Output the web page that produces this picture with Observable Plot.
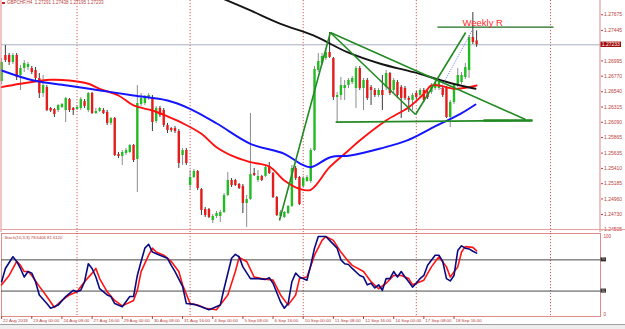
<!DOCTYPE html>
<html><head><meta charset="utf-8">
<script src="https://cdn.jsdelivr.net/npm/d3@7"></script>
<script src="https://cdn.jsdelivr.net/npm/@observablehq/plot@0.6"></script>
<style>
html,body{margin:0;padding:0;background:#fff;}
#wrap{position:relative;width:625px;height:329px;overflow:hidden;font-family:"Liberation Sans",Arial,sans-serif;background:#fff;}
#main{position:absolute;left:0;top:0;}
#stoch{position:absolute;left:0;top:232px;}
#title{position:absolute;left:7px;top:0px;font-size:4.5px;line-height:6px;color:#b8403c;white-space:nowrap;}
#icon{position:absolute;left:2px;top:2px;width:3px;height:2px;background:#d02020;}
#tabs{position:absolute;left:0;top:324px;width:625px;height:5px;background:#eeeeee;border-top:1px solid #a0a0a0;}
</style></head><body>
<div id="wrap">
  <div id="main"></div>
  <div id="stoch"></div>
  <div id="icon"></div>
  <div id="title">GBPCHF,H4&nbsp; 1.27291 1.27438 1.27195 1.27233</div>
  <div id="tabs"></div>
</div>
<script>
// ---------- DATA ----------
const symbolTitle = "GBPCHF,H4";
const opens = [1.26692,1.27075,1.27075,1.26972,1.27075,1.26780,1.26883,1.26898,1.26883,1.26854,
1.26736,1.26515,1.26603,1.26294,1.26279,1.26264,1.26308,1.26264,1.26426,1.26294,
1.26279,1.26294,1.26397,1.26264,1.26515,1.26220,1.26249,1.26264,1.26235,1.26073,
1.26146,1.25615,1.25586,1.25630,1.25645,1.25748,1.25542,1.26353,1.26367,1.26441,
1.26456,1.26102,1.26294,1.26264,1.26043,1.25999,1.25999,1.25954,1.25601,1.25674,
1.25158,1.25276,1.25365,1.25099,1.24804,1.24804,1.24642,1.24701,1.24701,1.24760,
1.25011,1.25232,1.25232,1.25173,1.25144,1.24893,1.24952,1.25335,1.25232,1.25291,
1.25291,1.25438,1.25335,1.24981,1.24701,1.24686,1.24745,1.24849,1.25409,1.25276,
1.25144,1.25217,1.25217,1.25674,1.26854,1.26957,1.27031,1.27119,1.27031,1.26456,
1.26485,1.26588,1.26633,1.26677,1.26588,1.26883,1.26588,1.26706,1.26603,1.26559,
1.26485,1.26559,1.26603,1.26810,1.26559,1.26677,1.26603,1.26588,1.26441,1.26412,
1.26515,1.26485,1.26559,1.26530,1.26530,1.26588,1.26588,1.26588,1.26588,1.26161,
1.26382,1.26633,1.26677,1.26751,1.26854,1.27340,1.27291];
const highs = [1.27031,1.27222,1.27105,1.27105,1.27105,1.26928,1.27001,1.26972,1.26913,1.26898,
1.26810,1.26780,1.26633,1.26308,1.26294,1.26353,1.26367,1.26456,1.26441,1.26308,
1.26338,1.26456,1.26426,1.26530,1.26530,1.26294,1.26308,1.26294,1.26264,1.26161,
1.26161,1.25645,1.25674,1.25704,1.25763,1.25763,1.26633,1.26515,1.26485,1.26515,
1.26485,1.26323,1.26323,1.26294,1.26073,1.26013,1.26028,1.25984,1.25704,1.25704,
1.25379,1.25394,1.25379,1.25114,1.24834,1.24819,1.24731,1.24775,1.24790,1.25040,
1.25350,1.25261,1.25247,1.25188,1.25173,1.25011,1.26220,1.25409,1.25379,1.25306,
1.25438,1.25497,1.25350,1.24996,1.24790,1.24775,1.24863,1.25453,1.25438,1.25291,
1.25291,1.25306,1.25704,1.26913,1.27105,1.27105,1.27178,1.27414,1.27046,1.26530,
1.26751,1.26706,1.26736,1.26765,1.26913,1.26913,1.26736,1.26736,1.26633,1.26588,
1.26588,1.26780,1.26854,1.26824,1.26736,1.26706,1.26633,1.26618,1.26471,1.26515,
1.26544,1.26588,1.26588,1.26559,1.26662,1.26706,1.26736,1.26618,1.26618,1.26412,
1.26662,1.26883,1.26824,1.26957,1.27370,1.27709,1.27438];
const lows = [1.26647,1.26972,1.26928,1.26942,1.26706,1.26559,1.26824,1.26854,1.26795,1.26706,
1.26441,1.26456,1.26249,1.26235,1.26161,1.26235,1.26294,1.26087,1.26235,1.26191,
1.26264,1.26264,1.26294,1.26235,1.26205,1.26205,1.26235,1.26205,1.26043,1.26043,
1.25586,1.25556,1.25453,1.25601,1.25630,1.25497,1.25055,1.26323,1.26338,1.26412,
1.25954,1.26073,1.26161,1.26013,1.25925,1.25940,1.25925,1.25409,1.25453,1.25453,
1.25085,1.25261,1.25085,1.24716,1.24686,1.24672,1.24598,1.24672,1.24613,1.24745,
1.24996,1.25129,1.25144,1.25099,1.24745,1.24539,1.24937,1.25291,1.25203,1.25217,
1.25276,1.25320,1.24966,1.24701,1.24672,1.24672,1.24731,1.24834,1.25232,1.24863,
1.25114,1.25203,1.25188,1.25660,1.26824,1.26928,1.27001,1.27031,1.26412,1.26087,
1.26412,1.26412,1.26588,1.26647,1.26294,1.26559,1.26264,1.26412,1.26338,1.26456,
1.26456,1.26264,1.26559,1.26485,1.26515,1.26441,1.26146,1.26412,1.26235,1.26264,
1.26426,1.26441,1.26382,1.26426,1.26500,1.26559,1.26559,1.26456,1.26146,1.26013,
1.26353,1.26603,1.26647,1.26721,1.26736,1.27237,1.27195];
const closes = [1.26972,1.27001,1.26972,1.27075,1.26751,1.26883,1.26957,1.26942,1.26824,1.26736,
1.26515,1.26633,1.26264,1.26257,1.26205,1.26338,1.26353,1.26441,1.26264,1.26264,
1.26308,1.26426,1.26323,1.26515,1.26220,1.26249,1.26294,1.26220,1.26073,1.26146,
1.25601,1.25586,1.25645,1.25674,1.25748,1.25527,1.26367,1.26441,1.26456,1.26485,
1.26087,1.26294,1.26191,1.26043,1.25969,1.25969,1.25954,1.25483,1.25674,1.25483,
1.25276,1.25365,1.25114,1.24790,1.24716,1.24686,1.24701,1.24745,1.24760,1.25011,
1.25232,1.25158,1.25158,1.25114,1.24893,1.24952,1.25320,1.25306,1.25291,1.25232,
1.25424,1.25335,1.24981,1.24716,1.24760,1.24760,1.24849,1.25409,1.25261,1.24878,
1.25261,1.25276,1.25674,1.26869,1.26987,1.27060,1.27119,1.27046,1.26456,1.26485,
1.26633,1.26633,1.26706,1.26736,1.26883,1.26588,1.26706,1.26441,1.26559,1.26485,
1.26559,1.26485,1.26810,1.26515,1.26706,1.26485,1.26441,1.26441,1.26412,1.26485,
1.26456,1.26559,1.26412,1.26456,1.26633,1.26662,1.26706,1.26485,1.26161,1.26382,
1.26633,1.26780,1.26780,1.26898,1.27340,1.27267,1.27233];

// moving averages, sampled as [bar index, price]
const maRed = [[0,1.26608],[5,1.26658],[13,1.26717],[18,1.26706],[23,1.26658],[26,1.26584],[31,1.26485],[35,1.26338],[40,1.26264],[44,1.26176],[48,1.26077],[53,1.25920],[57,1.25723],[62,1.25575],[66,1.25502],[71,1.25438],[75,1.25232],[79,1.25110],[82,1.25095],[87,1.25428],[92,1.25674],[95,1.25822],[102,1.26117],[108,1.26313],[112,1.26510],[114,1.26633],[116,1.26633],[120,1.26584],[124,1.26608],[126,1.26633]];
const maBlue = [[0,1.26854],[8.5,1.26706],[17.4,1.26633],[26.2,1.26559],[35,1.26485],[44,1.26412],[50,1.26289],[57.2,1.26068],[66,1.25773],[75,1.25626],[79.3,1.25478],[82,1.25428],[87.2,1.25575],[92.5,1.25601],[100.5,1.25704],[107.6,1.25822],[114.6,1.26018],[121.7,1.26215],[125.7,1.26353]];
const maBlack = [[58,1.27930],[66,1.27739],[74,1.27542],[82.7,1.27370],[91.7,1.27124],[100.5,1.26953],[109.3,1.26829],[118.3,1.26681],[125.7,1.26584]];

// drawn objects: [index1, price1, index2, price2]
const trendlines = [[73.7,1.24642,87.2,1.27414],[87.2,1.27414,109.8,1.26205],[109.8,1.26205,123.1,1.27414],[87.2,1.27414,138.97,1.26132],[88.6,1.26092,140.8,1.26117]];
const trendlinesBold = [[127.8,1.26117,140.8,1.26117]];
const projection = [[116.4,1.26584,124.8,1.27444]];
const weeklyR = 1.27492;
const weeklyRSpan = [115.6, 146.4];
const weeklyRLabel = "Weekly R";
const weeklyRLabelAt = 127.6;
const bidPrice = 1.27233;
const separators = [20, 50, 80, 110, 145.6];

const priceTicks = [1.27675,1.27445,1.26995,1.26770,1.26540,1.26315,1.26090,1.25865,1.25635,1.25410,1.25185,1.24960,1.24730,1.24505];
const xTickIdx = [0,8,16,24,32,40,48,56,64,72,80,88,96,104,112,120];
const xTickLabels = ["22 Aug 2018","23 Aug 00:00","24 Aug 08:00","27 Aug 16:00","29 Aug 00:00","30 Aug 08:00","31 Aug 16:00","4 Sep 00:00","5 Sep 08:00","6 Sep 16:00","10 Sep 00:00","11 Sep 08:00","12 Sep 16:00","14 Sep 00:00","17 Sep 08:00","18 Sep 16:00"];

// stochastic (10,3,3): [bar index, value]
const stochMain = [[0,42],[1,59],[3,74],[4,68],[5,59],[6,48],[7,55],[8,53],[9,42],[10,25],[12,14],[13,8],[15,12],[17,23],[19,31],[20,29],[21,31],[22,42],[23,65],[24,59],[25,48],[26,33],[28,25],[29,23],[30,14],[32,10],[34,23],[35,23],[36,50],[37,68],[38,85],[39,90],[40,80],[42,76],[44,72],[45,63],[46,55],[48,36],[49,14],[51,13],[53,10],[55,6],[56,8],[58,12],[59,33],[61,72],[62,77],[63,74],[64,61],[66,46],[68,46],[70,45],[71,47],[72,40],[74,16],[75,8],[76,14],[77,42],[78,53],[79,48],[81,44],[82,63],[83,85],[84,100],[86,100],[87,95],[89,85],[90,70],[91,65],[92,64],[93,59],[95,50],[96,48],[97,38],[98,40],[99,34],[100,38],[101,31],[102,46],[103,46],[104,55],[105,48],[106,55],[107,48],[108,42],[109,35],[110,40],[111,46],[112,50],[113,63],[115,76],[116,76],[117,68],[118,46],[119,43],[120,50],[121,82],[122,88],[123,85],[124,84],[125,81],[126,78.6406]];
const stochSignal = [[0,38],[2,50],[4,68],[5,63],[6,55],[7,55],[8,50],[10,36],[12,23],[14,9],[16,18],[18,25],[20,29],[22,42],[24,53],[25,59],[26,46],[28,29],[30,18],[32,11],[35,18],[36,31],[37,55],[39,76],[40,85],[41,80],[43,76],[45,68],[47,55],[48,38],[50,14],[52,12],[54,8],[57,6],[60,25],[62,55],[63,73],[65,68],[67,48],[69,46],[72,44],[74,25],[76,12],[78,25],[79,46],[81,48],[83,76],[85,95],[86,100],[88,95],[90,80],[92,68],[93,63],[96,55],[98,42],[100,33],[102,40],[104,50],[106,50],[108,46],[109,38],[112,44],[114,61],[116,74],[118,61],[119,48],[121,61],[122,80],[123,87],[125,86],[126,81.612]];
const stochLevels = [30, 70];
const stochLabel = "Stoch(10,3,3) 78.6406 81.6120";

// ---------- CHART ----------
const FONT = "Liberation Sans, Arial, sans-serif";
const AX = "#b8403c";
const bars = opens.map((o, i) => ({i, o, h: highs[i], l: lows[i], c: closes[i], up: closes[i] >= o}));
const xDomain = [-0.03, 158.86];

const main = Plot.plot({
  width: 625, height: 232,
  marginLeft: 1, marginRight: 25, marginTop: 0, marginBottom: 0,
  x: {domain: xDomain, axis: null},
  y: {domain: [1.24465, 1.27886], axis: null},
  color: {type: "identity"},
  style: {background: "transparent", color: AX, fontFamily: FONT, overflow: "visible"},
  marks: [
    Plot.ruleX(separators, {stroke: "#d04848", strokeWidth: 0.9, strokeDasharray: "1.2,1.8"}),
    Plot.ruleY([bidPrice], {stroke: "#a7b0c2", strokeWidth: 1}),
    Plot.ruleX(bars, {x: "i", y1: "l", y2: "h", stroke: d => d.up ? "#8c8c8c" : "#3a3a3a", strokeWidth: 1}),
    Plot.ruleX(bars, {x: "i", y1: "o", y2: "c", stroke: d => d.up ? "#22bb22" : "#e51c1c", strokeWidth: 2.4}),
    Plot.line(maRed, {x: d => d[0], y: d => d[1], stroke: "#ff1010", strokeWidth: 1.9, curve: "catmull-rom"}),
    Plot.line(maBlue, {x: d => d[0], y: d => d[1], stroke: "#1414ff", strokeWidth: 1.9, curve: "catmull-rom"}),
    Plot.line(maBlack, {x: d => d[0], y: d => d[1], stroke: "#151515", strokeWidth: 1.9, curve: "catmull-rom", clip: true}),
    Plot.link(trendlines, {x1: d => d[0], y1: d => d[1], x2: d => d[2], y2: d => d[3], stroke: "#238a23", strokeWidth: 1.6}),
    Plot.link(trendlinesBold, {x1: d => d[0], y1: d => d[1], x2: d => d[2], y2: d => d[3], stroke: "#238a23", strokeWidth: 2.6}),
    Plot.link(projection, {x1: d => d[0], y1: d => d[1], x2: d => d[2], y2: d => d[3], stroke: "#5a5aff", strokeWidth: 0.9, strokeDasharray: "1,1.4"}),
    Plot.link([weeklyRSpan], {x1: d => d[0], x2: d => d[1], y1: () => weeklyR, y2: () => weeklyR, stroke: "#1c6e1c", strokeWidth: 1.3}),
    Plot.text([weeklyRLabel], {x: () => weeklyRLabelAt, y: () => weeklyR, text: d => d, fill: "#ff2a2a", fontSize: 9.5, lineAnchor: "bottom", dy: -1.5, fontFamily: FONT}),
    Plot.axisY({anchor: "right", ticks: priceTicks, tickFormat: d => d.toFixed(5), tickSize: 2, tickPadding: 1.5, fontSize: 5, fill: AX})
  ]
});
document.getElementById("main").appendChild(main);

// frame lines & current price label, positioned through Plot's scales
{
  const xs = main.scale("x"), ys = main.scale("y");
  const [xl, xr] = xs.range;
  const svg = d3.select(main);
  const yb = ys.apply(bidPrice);
  svg.append("line").attr("x1", xl).attr("x2", xl).attr("y1", 0).attr("y2", 232).attr("stroke", "#e08a8a");
  svg.append("line").attr("x1", xr).attr("x2", xr).attr("y1", 0).attr("y2", 232).attr("stroke", "#e08a8a");
  svg.append("line").attr("x1", xl).attr("x2", xr + 25).attr("y1", 229.5).attr("y2", 229.5).attr("stroke", "#e8a0a0");
  svg.append("rect").attr("x", xr + 0.5).attr("y", yb - 2.7).attr("width", 20.5).attr("height", 5.4).attr("fill", "#a00a0a");
  svg.append("text").attr("x", xr + 1.8).attr("y", yb).attr("dy", "0.35em").attr("text-anchor", "start").attr("font-size", 5).attr("font-family", FONT).attr("fill", "#ffffff").text(bidPrice.toFixed(5));
}

const stoch = Plot.plot({
  width: 625, height: 97,
  marginLeft: 1, marginRight: 25, marginTop: 1, marginBottom: 13,
  x: {domain: xDomain, axis: null},
  y: {domain: [-2.6, 103.8], axis: null},
  style: {background: "transparent", color: AX, fontFamily: FONT, overflow: "visible"},
  marks: [
    Plot.frame({stroke: "#e08a8a"}),
    Plot.ruleX(separators, {stroke: "#d04848", strokeWidth: 0.9, strokeDasharray: "1.2,1.8"}),
    Plot.ruleY(stochLevels, {stroke: "#4a4a4a", strokeWidth: 1}),
    Plot.line(stochSignal, {x: d => d[0], y: d => d[1], stroke: "#ff1414", strokeWidth: 1.6}),
    Plot.line(stochMain, {x: d => d[0], y: d => d[1], stroke: "#0a0a80", strokeWidth: 1.6}),
    Plot.text([stochLabel], {frameAnchor: "top-left", text: d => d, dx: 3, dy: 4, fontSize: 4.2, fill: AX, lineAnchor: "middle"}),
    Plot.axisY({anchor: "right", ticks: [0, 100], tickSize: 0, tickPadding: 3, fontSize: 4.5, fill: AX}),
    Plot.axisX({ticks: xTickIdx, tickSize: 3, tickFormat: () => "", stroke: AX}),
    Plot.text(xTickIdx, {x: d => d, text: (d, i) => xTickLabels[i], frameAnchor: "bottom", dy: 4.5, dx: 1.5, textAnchor: "start", lineAnchor: "middle", fontSize: 4.4, fill: AX})
  ]
});
document.getElementById("stoch").appendChild(stoch);
{
  const xs = stoch.scale("x"), ys = stoch.scale("y");
  const xr = xs.range[1];
  const svg = d3.select(stoch);
  for (const lv of stochLevels) {
    const y = ys.apply(lv);
    svg.append("rect").attr("x", xr + 0.5).attr("y", y - 2).attr("width", 5.5).attr("height", 4).attr("fill", "#2a2a2a");
    svg.append("text").attr("x", xr + 3.25).attr("y", y).attr("dy", "0.35em").attr("text-anchor", "middle").attr("font-size", 3.2).attr("font-family", FONT).attr("fill", "#d0d0d0").text(lv);
  }
}
</script>
</body></html>
